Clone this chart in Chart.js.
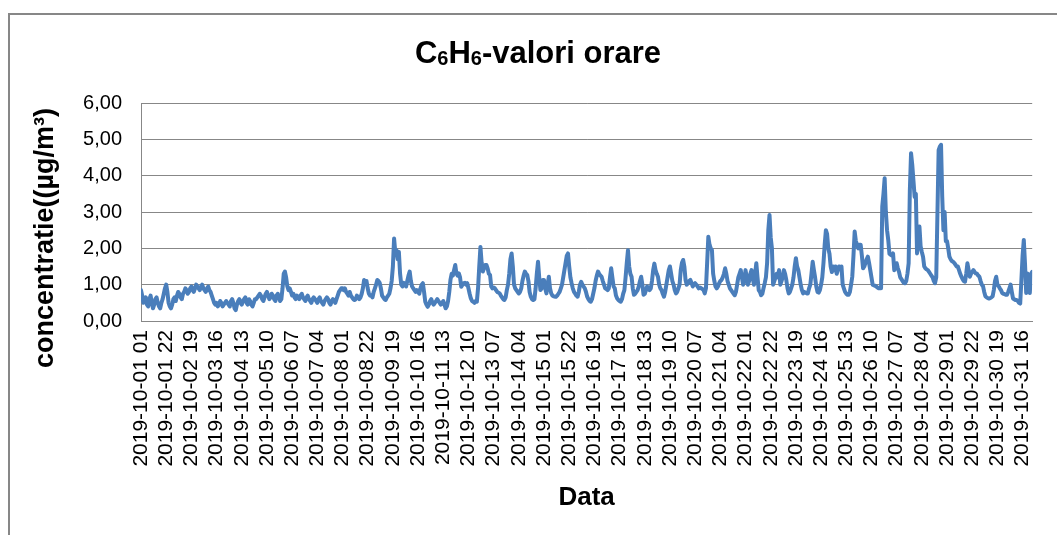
<!DOCTYPE html>
<html>
<head>
<meta charset="utf-8">
<script src="https://cdn.jsdelivr.net/npm/chart.js@4/dist/chart.umd.min.js"></script>
<style>
  html, body { margin: 0; padding: 0; background: #fff; overflow: hidden; }
  #frame { position: absolute; left: 8px; top: 13px; width: 1200px; height: 700px;
           border-left: 2px solid #878787; border-top: 2px solid #878787; }
  #c { position: absolute; left: 0; top: 0; }
</style>
</head>
<body>
<div id="frame"></div>
<canvas id="c" width="1057" height="535"></canvas>
<script>
// ---- data (hourly values, 2019-10-01 01 ... 2019-10-31 24) ----
const titleParts = [["C", false], ["6", true], ["H", false], ["6", true], ["-valori orare", false]];
const yAxisTitle = "concentratie((µg/m³)";
const xAxisTitle = "Data";
const yTickLabels = ["0,00", "1,00", "2,00", "3,00", "4,00", "5,00", "6,00"];
const tickLabels = [
  "2019-10-01 01", "2019-10-01 22", "2019-10-02 19", "2019-10-03 16", "2019-10-04 13", "2019-10-05 10",
  "2019-10-06 07", "2019-10-07 04", "2019-10-08 01", "2019-10-08 22", "2019-10-09 19", "2019-10-10 16",
  "2019-10-11 13", "2019-10-12 10", "2019-10-13 07", "2019-10-14 04", "2019-10-15 01", "2019-10-15 22",
  "2019-10-16 19", "2019-10-17 16", "2019-10-18 13", "2019-10-19 10", "2019-10-20 07", "2019-10-21 04",
  "2019-10-22 01", "2019-10-22 22", "2019-10-23 19", "2019-10-24 16", "2019-10-25 13", "2019-10-26 10",
  "2019-10-27 07", "2019-10-28 04", "2019-10-29 01", "2019-10-29 22", "2019-10-30 19", "2019-10-31 16"
];
const tickStep = 21;
const values = [
  0.85,0.7,0.5,0.55,0.65,0.45,0.4,0.6,0.7,0.5,0.35,0.45,0.6,0.65,0.5,0.4,0.35,0.5,0.6,0.75,0.9,1.0,0.8,0.5,
  0.4,0.35,0.45,0.6,0.65,0.55,0.7,0.8,0.75,0.65,0.6,0.75,0.8,0.9,0.85,0.75,0.8,0.9,0.95,0.85,0.8,0.9,1.0,0.95,
  0.9,0.85,0.95,1.0,0.9,0.85,0.8,0.9,0.95,0.85,0.8,0.7,0.6,0.5,0.45,0.5,0.4,0.45,0.55,0.5,0.4,0.45,0.5,0.55,
  0.5,0.45,0.4,0.55,0.6,0.5,0.35,0.3,0.45,0.55,0.6,0.5,0.45,0.55,0.6,0.65,0.5,0.45,0.6,0.55,0.45,0.4,0.5,0.6,
  0.6,0.65,0.7,0.75,0.7,0.6,0.55,0.65,0.75,0.8,0.7,0.6,0.65,0.75,0.7,0.6,0.55,0.7,0.75,0.65,0.55,0.6,0.9,1.3,
  1.36,1.2,0.95,0.85,0.9,0.8,0.7,0.75,0.65,0.6,0.7,0.65,0.6,0.7,0.75,0.65,0.6,0.55,0.65,0.7,0.6,0.55,0.5,0.6,
  0.65,0.6,0.55,0.5,0.6,0.65,0.55,0.5,0.45,0.55,0.6,0.65,0.6,0.5,0.45,0.55,0.6,0.55,0.5,0.6,0.7,0.8,0.85,0.9,
  0.9,0.85,0.9,0.8,0.75,0.7,0.8,0.7,0.65,0.6,0.58,0.6,0.7,0.65,0.6,0.65,0.75,0.9,1.13,1.05,1.1,0.9,0.75,0.7,
  0.7,0.65,0.8,0.9,1.0,1.13,1.1,1.05,0.9,0.7,0.65,0.6,0.58,0.65,0.7,0.75,0.9,1.1,1.5,2.27,1.9,1.95,1.7,1.9,
  1.3,1.0,0.95,1.05,1.0,0.95,1.1,1.25,1.36,1.1,0.95,0.9,0.85,0.8,0.85,0.8,0.75,0.9,1.0,1.04,0.8,0.53,0.45,0.39,
  0.45,0.55,0.6,0.5,0.45,0.5,0.55,0.6,0.55,0.5,0.45,0.5,0.55,0.45,0.35,0.4,0.55,0.8,1.13,1.3,1.25,1.4,1.54,1.3,
  1.25,1.31,1.2,0.94,1.0,1.04,1.05,1.0,1.04,0.9,0.75,0.62,0.55,0.53,0.5,0.55,0.53,0.9,1.5,2.04,1.6,1.36,1.45,1.54,
  1.54,1.45,1.3,1.27,0.95,0.9,0.92,0.9,0.85,0.8,0.78,0.76,0.7,0.65,0.6,0.58,0.65,0.85,1.0,1.3,1.7,1.86,1.5,1.0,
  0.9,0.85,0.8,0.76,0.8,0.9,1.1,1.25,1.36,1.3,1.27,1.1,0.8,0.67,0.6,0.58,0.6,0.9,1.3,1.63,1.2,0.85,0.9,1.13,
  1.13,0.9,0.76,1.0,1.22,0.9,0.76,0.7,0.68,0.67,0.67,0.7,0.75,0.8,0.9,1.0,1.2,1.4,1.6,1.8,1.86,1.5,1.2,1.04,
  0.9,0.8,0.75,0.7,0.67,0.8,1.0,1.08,1.0,0.95,0.9,0.8,0.67,0.6,0.55,0.53,0.6,0.75,0.9,1.1,1.25,1.36,1.3,1.25,
  1.22,1.1,1.0,0.9,0.88,0.85,0.9,1.2,1.45,1.2,0.95,0.9,0.7,0.62,0.58,0.55,0.53,0.6,0.75,0.85,1.2,1.6,1.95,1.5,
  1.3,1.22,0.9,0.72,0.75,0.8,0.85,0.95,1.1,1.22,1.0,0.72,0.75,0.85,0.95,0.9,0.85,0.9,1.1,1.4,1.58,1.4,1.3,1.22,
  1.0,0.9,0.85,0.75,0.67,0.8,1.0,1.2,1.4,1.5,1.3,1.1,1.0,0.85,0.76,0.8,0.9,1.0,1.4,1.6,1.68,1.5,1.13,1.0,
  1.04,1.1,1.13,1.05,0.95,1.0,1.04,1.0,0.95,0.9,0.92,0.9,0.88,0.85,0.76,0.9,1.6,2.32,2.1,2.0,1.95,1.3,1.1,0.95,
  0.9,0.95,1.04,1.1,1.13,1.2,1.3,1.45,1.3,1.1,1.0,0.9,0.85,0.8,0.75,0.71,0.8,1.0,1.2,1.3,1.4,1.2,1.0,1.1,
  1.4,1.2,1.0,1.1,1.3,1.4,1.2,1.0,1.3,1.59,1.2,0.85,0.8,0.71,0.75,0.9,1.04,1.2,1.6,2.5,2.92,2.3,2.0,1.0,
  1.1,1.2,1.3,1.2,1.4,1.0,1.1,1.2,1.4,1.3,1.13,0.9,0.76,0.8,0.9,1.0,1.2,1.5,1.73,1.5,1.4,1.2,1.0,0.85,
  0.76,0.8,0.78,0.76,0.76,0.9,1.0,1.3,1.63,1.4,1.2,0.95,0.8,0.78,0.85,1.0,1.2,1.6,2.1,2.5,2.4,2.0,1.85,1.5,
  1.35,1.5,1.4,1.5,1.3,1.4,1.5,1.45,1.5,1.0,0.9,0.8,0.75,0.72,0.72,0.8,1.0,1.22,1.8,2.46,2.2,2.1,2.0,2.1,
  2.1,1.8,1.45,1.5,1.6,1.7,1.77,1.6,1.4,1.2,1.0,0.98,0.97,0.95,0.92,0.9,0.9,0.9,3.15,3.5,3.93,3.0,2.5,2.23,
  1.85,1.82,1.8,1.86,1.4,1.5,1.59,1.45,1.35,1.2,1.15,1.1,1.05,1.04,1.1,1.3,1.59,3.6,4.62,4.3,3.86,3.42,3.5,1.86,
  2.2,2.6,2.05,1.9,1.77,1.5,1.45,1.42,1.4,1.35,1.3,1.25,1.2,1.1,1.04,1.2,2.96,4.7,4.8,4.85,3.42,2.5,3.0,2.2,
  2.2,2.0,1.77,1.7,1.65,1.63,1.6,1.55,1.5,1.5,1.4,1.3,1.22,1.15,1.1,1.08,1.3,1.59,1.4,1.22,1.3,1.35,1.4,1.35,
  1.31,1.3,1.25,1.22,1.1,1.0,0.96,0.8,0.68,0.65,0.63,0.62,0.63,0.65,0.68,0.85,1.1,1.22,1.0,0.96,0.9,0.85,0.77,0.75,
  0.74,0.72,0.72,0.8,0.9,1.0,0.8,0.62,0.6,0.58,0.58,0.55,0.5,0.48,1.13,1.8,2.23,1.59,0.77,1.31,1.1,0.77,1.3,1.35
];

// ---- chart ----
const FONT = "'Liberation Sans', Arial, sans-serif";
const GRID = '#878787';
const points = values.map((v, i) => ({ x: i, y: v }));

const textPlugin = {
  id: 'textPlugin',
  afterDraw(chart) {
    const ctx = chart.ctx;
    ctx.save();
    ctx.fillStyle = '#000';
    ctx.textBaseline = 'alphabetic';
    ctx.textAlign = 'left';
    // main title with small "6"
    const big = 'bold 31px ' + FONT, small = 'bold 20px ' + FONT;
    let total = 0;
    const widths = titleParts.map(([t, s]) => { ctx.font = s ? small : big; const w = ctx.measureText(t).width; total += w; return w; });
    let x = 538 - total / 2;
    titleParts.forEach(([t, s], i) => {
      ctx.font = s ? small : big;
      ctx.fillText(t, x, s ? 65 : 63);
      x += widths[i];
    });
    // y-axis title
    ctx.translate(46, 238);
    ctx.rotate(-Math.PI / 2);
    ctx.font = 'bold 27px ' + FONT;
    ctx.textAlign = 'center';
    ctx.textBaseline = 'middle';
    ctx.fillText(yAxisTitle, 0, 0);
    ctx.restore();
  }
};

new Chart(document.getElementById('c'), {
  type: 'line',
  data: {
    datasets: [{
      data: points,
      borderColor: '#4a7ebb',
      borderWidth: 4,
      pointRadius: 0,
      tension: 0,
      borderJoinStyle: 'round',
      borderCapStyle: 'round',
      fill: false
    }]
  },
  options: {
    responsive: false,
    animation: false,
    devicePixelRatio: 1,
    layout: { padding: { left: 0, top: 103, right: 19, bottom: 0 } },
    plugins: { legend: { display: false }, tooltip: { enabled: false }, title: { display: false } },
    scales: {
      x: {
        type: 'linear',
        min: 0,
        max: values.length - 1,
        afterFit(s) { s.height = 535 - 321; },
        afterBuildTicks(s) { s.ticks = tickLabels.map((_, k) => ({ value: k * tickStep })); },
        grid: { display: false, drawTicks: false },
        border: { display: true, color: GRID, width: 1 },
        ticks: {
          autoSkip: false, minRotation: 90, maxRotation: 90, padding: 9,
          color: '#000', font: { family: FONT, size: 21 },
          callback: (v) => tickLabels[Math.round(v / tickStep)]
        },
        title: { display: true, text: xAxisTitle, color: '#000',
                 font: { family: FONT, size: 26, weight: 'bold' }, padding: { top: 0, bottom: 22 } }
      },
      y: {
        min: 0, max: 6,
        afterFit(s) { s.width = 141; },
        afterBuildTicks(s) { s.ticks = yTickLabels.map((_, k) => ({ value: k })); },
        grid: { color: GRID, lineWidth: 1, drawTicks: false },
        border: { display: true, color: GRID, width: 1 },
        ticks: { padding: 19, color: '#000', font: { family: FONT, size: 20 },
                 callback: (v) => yTickLabels[Math.round(v)] }
      }
    }
  },
  plugins: [textPlugin]
});
</script>
</body>
</html>
